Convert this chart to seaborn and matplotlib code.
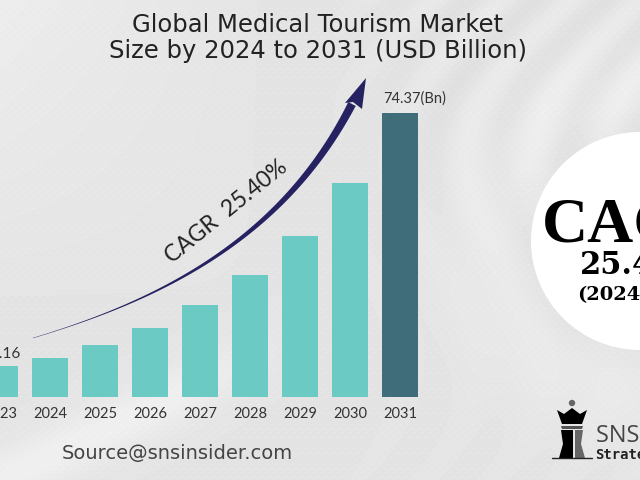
import numpy as np
import pandas as pd
import matplotlib
matplotlib.use("Agg")
import matplotlib.pyplot as plt
import seaborn as sns
from matplotlib.patches import Circle, Polygon

years = ["2023", "2024", "2025", "2026", "2027", "2028", "2029", "2030", "2031"]
values = [8.16, 10.2, 13.6, 18.1, 24.1, 32.0, 42.2, 56.0, 74.37]
bar_colors = ["#6CCAC4"] * 8 + ["#3F6D79"]
title_lines = "Global Medical Tourism Market\nSize by 2024 to 2031 (USD Billion)"
first_label = "8.16"
last_label = "74.37(Bn)"
cagr_label = "CAGR  25.40%"
source_label = "Source@snsinsider.com"

sns.set_theme(style="white")
W, H = 640, 480
fig = plt.figure(figsize=(6.4, 4.8), dpi=100)

# ---------- decorative background ----------
bg = fig.add_axes([0, 0, 1, 1], zorder=0)
bg.set_xlim(0, W); bg.set_ylim(H, 0); bg.axis("off")
yy, xx = np.mgrid[0:H, 0:W].astype(float)
img = np.full((H, W), 228.0)
img += 8 * np.clip((260 - xx) / 260, 0, 1) * np.clip((300 - yy) / 300, 0, 1)
d = (yy - (480 - 0.48 * xx))
img += 11 * np.exp(-(d / 30) ** 2) * np.clip((300 - xx) / 120, 0, 1)
warp = xx + 70 * np.sin(yy / 85.0) + 0.25 * yy
mask = np.clip((xx - 330) / 120, 0, 1)
img += 4.5 * np.sin(warp / 11.0) * mask * np.clip((300 - yy) / 180, 0.15, 1)
r = np.hypot(xx - 640, yy - 241)
img += 5 * np.clip((r - 105) / 30, 0, 1) * np.exp(-((r - 150) / 55) ** 2)
dots = (np.cos(2 * np.pi * (xx + 0.3 * yy) / 8) * np.cos(2 * np.pi * yy / 8) > 0.72)
img += 5 * dots
img = np.clip(img, 0, 255) / 255
bg.imshow(img, cmap="gray", vmin=0, vmax=1, extent=(0, W, H, 0), aspect="auto",
          interpolation="bilinear", zorder=0)
bg.set_xlim(0, W); bg.set_ylim(H, 0)

bg.add_patch(Circle((640, 241), 109, fc="white", ec="none", zorder=1))

# swoosh arrow
t = np.linspace(0, 1, 80)
p0, p1, p2, p3 = np.array([33, 338]), np.array([150, 303]), np.array([280, 245]), np.array([352, 104])
curve = ((1 - t) ** 3)[:, None] * p0 + (3 * (1 - t) ** 2 * t)[:, None] * p1 \
    + (3 * (1 - t) * t ** 2)[:, None] * p2 + (t ** 3)[:, None] * p3
tang = np.gradient(curve, axis=0)
norm = np.c_[-tang[:, 1], tang[:, 0]] / np.linalg.norm(tang, axis=1)[:, None]
hw = 0.2 + 4.0 * t ** 1.6
upper, lower = curve + norm * hw[:, None], curve - norm * hw[:, None]
bg.add_patch(Polygon(np.r_[upper, lower[::-1]], fc="#262262", ec="none", zorder=3))
bg.add_patch(Polygon([(366, 78), (362, 109), (353, 102), (345, 103)], fc="#262262", ec="none", zorder=3))

# ---------- bars ----------
ax = fig.add_axes([0, 83 / H, 1, 397 / H], zorder=1)
ax.patch.set_alpha(0)
df = pd.DataFrame({"year": years, "value": values})
sns.barplot(data=df, x="year", y="value", hue="year", palette=bar_colors, legend=False,
            width=0.73, saturation=1, dodge=False, linewidth=0, ax=ax)
ax.set_xlim(0, 12.8)
ax.set_ylim(0, 397 * 74.37 / 284)
ax.set_xlabel(""); ax.set_ylabel("")
ax.set_yticks([])
sns.despine(ax=ax, left=True, bottom=True)
ax.tick_params(axis="x", length=0, pad=7, labelsize=10.5, labelcolor="#333333")
for lab in ax.get_xticklabels():
    lab.set_family("Lato")
ax.text(0.1, values[0] + 1.2, first_label, ha="center", va="bottom", fontsize=11,
        family="Lato", color="#333333")
ax.text(7.66, values[-1] + 1.9, last_label, ha="left", va="bottom", fontsize=10.5,
        family="Lato", color="#333333")

# ---------- texts ----------
bg.text(318, 38, title_lines, ha="center", va="center", fontsize=17.5, family="DejaVu Sans",
        color="#222222", linespacing=1.12, zorder=4)
bg.text(226, 212, cagr_label, rotation=39, rotation_mode="anchor", ha="center", va="center",
        fontsize=16.5, family="Lato", color="#222222", zorder=4)
bg.text(62, 453, source_label, ha="left", va="center", fontsize=14, family="DejaVu Sans",
        color="#444444", zorder=4)

bg.text(542, 226, "CAGR", ha="left", va="center", fontsize=46, family="Liberation Serif", weight="bold",
        color="black", zorder=4, clip_on=True)
bg.text(580, 266, "25.40%", ha="left", va="center", fontsize=22, family="DejaVu Serif", weight="bold",
        color="black", zorder=4, clip_on=True)
bg.text(577, 295, "(2024-2031)", ha="left", va="center", fontsize=14, family="DejaVu Serif", weight="bold",
        color="black", zorder=4, clip_on=True)

# ---------- logo ----------
dark = "#222222"
bg.add_patch(Circle((572, 403), 3.2, fc="#666666", ec="none", zorder=4))
bg.add_patch(Polygon([(557, 410), (564, 414), (572, 408), (580, 414), (587, 410), (582, 424), (562, 424)],
                     fc="black", ec="none", zorder=4))
bg.add_patch(Polygon([(561, 426), (583, 426), (582, 429), (562, 429)], fc="#555555", ec="none", zorder=4))
bg.add_patch(Polygon([(561, 430), (573, 430), (573, 458), (559, 458), (563, 444)], fc="black", ec="none", zorder=4))
bg.add_patch(Polygon([(575, 430), (583, 430), (581, 444), (585, 458), (575, 458)], fc="#666666", ec="none", zorder=4))
bg.plot([552, 592], [458, 458], color=dark, lw=1, zorder=4)
bg.text(596, 436, "SNS Insider", ha="left", va="center", fontsize=17, family="Open Sans", color="#444444",
        zorder=4, clip_on=True)
bg.text(595, 455, "Strategy", ha="left", va="center", fontsize=10, family="DejaVu Sans Mono", weight="bold",
        color=dark, zorder=4, clip_on=True)

fig.savefig("out.png", dpi=100)
